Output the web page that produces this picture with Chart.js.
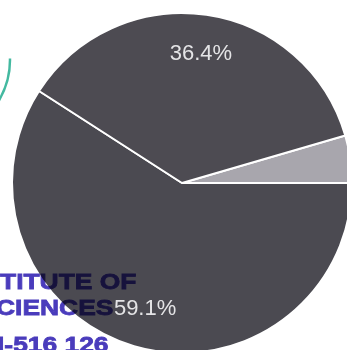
<!DOCTYPE html>
<html>
<head>
<meta charset="utf-8">
<script src="https://cdn.jsdelivr.net/npm/chart.js@4.4.0/dist/chart.umd.min.js"></script>
<style>
  html, body { margin:0; padding:0; background:#fff; overflow:hidden; width:347px; height:350px; }
  #wrap { position:relative; width:364px; height:366px; }
  .stamp { position:absolute; font:bold 22px "Liberation Sans", Arial, sans-serif; line-height:22px;
           color:#4a3cbc; mix-blend-mode:multiply; white-space:pre;
           -webkit-text-stroke:0.8px #4a3cbc;
           transform:scaleX(1.2); transform-origin:0 0; }
</style>
</head>
<body>
<div id="wrap">
  <canvas id="pie" width="364" height="366"></canvas>
  <span class="stamp" style="left:0px; top:271px">TITUTE OF</span>
  <span class="stamp" style="left:-4px; top:297px">CIENCES</span>
  <span class="stamp" style="left:-3px; top:334px">I-516 126</span>
</div>
<script>
// Datos
const labels = ['C', 'B', 'A'];
const values = [4.5, 59.1, 36.4];
const colors = ['#a8a6ad', '#4b4a51', '#4d4b52'];

function ctx(id){ return document.getElementById(id).getContext('2d'); }

// etiquetas de porcentaje dentro de cada sector
const pctLabels = {
  id: 'pctLabels',
  afterDatasetsDraw(chart){
    const c = chart.ctx;
    const total = values.reduce((s,v)=>s+v,0);
    const arcs = chart.getDatasetMeta(0).data;
    c.save();
    c.font = '22px "Liberation Sans", Arial, sans-serif';
    c.fillStyle = '#e4e4e6';
    c.textAlign = 'center';
    c.textBaseline = 'middle';
    arcs.forEach((a,i)=>{
      const pct = values[i] / total * 100;
      if (pct < 10) return;
      const mid = (a.startAngle + a.endAngle) / 2;
      const r = a.outerRadius * 0.77;
      c.fillText(pct.toFixed(1) + '%', a.x + Math.cos(mid) * r, a.y + Math.sin(mid) * r);
    });
    c.restore();
  }
};

// arco verde del sello (decoración)
const stampArc = {
  id: 'stampArc',
  afterDraw(chart){
    const c = chart.ctx;
    c.save();
    c.strokeStyle = '#43b9a0';
    c.lineWidth = 2.5;
    c.beginPath();
    c.arc(-70, 60, 80, -0.02, 0.55);
    c.stroke();
    c.restore();
  }
};

new Chart(ctx('pie'), {
  type: 'pie',
  data: {
    labels: labels,
    datasets: [{ data: values, backgroundColor: colors, borderColor: '#ffffff', borderWidth: 2 }]
  },
  options: {
    responsive: false,
    animation: false,
    devicePixelRatio: 1,
    rotation: 90 - values[0] / 100 * 360,
    radius: 170,
    layout: { padding: 0 },
    plugins: { legend: { display: false }, tooltip: { enabled: false } }
  },
  plugins: [pctLabels, stampArc]
});
</script>
</body>
</html>
